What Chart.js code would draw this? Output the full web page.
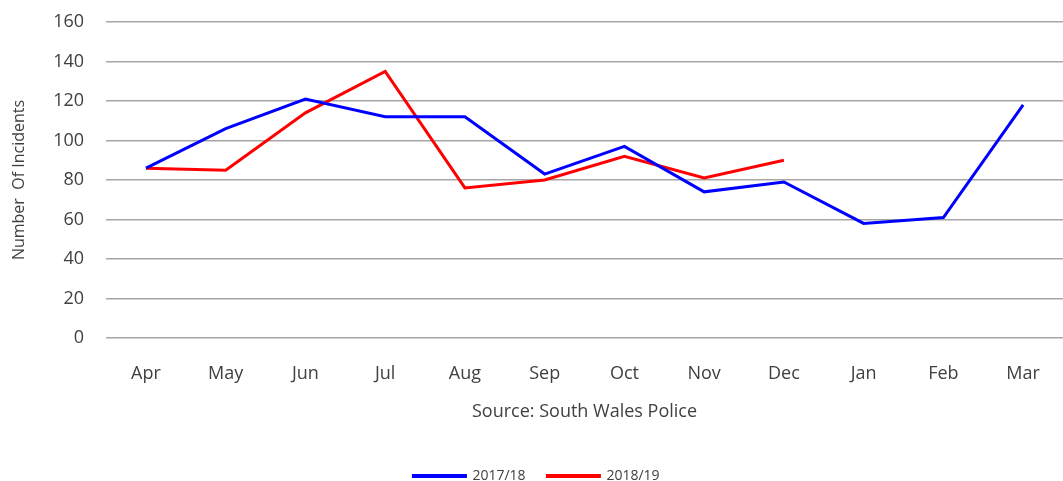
<!DOCTYPE html>
<html>
<head>
<meta charset="utf-8">
<script src="https://cdn.jsdelivr.net/npm/chart.js@4"></script>
<style>
  html, body { margin: 0; padding: 0; background: #fff; }
  #wrap { width: 1063px; height: 481px; position: relative; }
</style>
</head>
<body>
<div id="wrap"><canvas id="incidentsChart"></canvas></div>
<script>
// Months of the financial year
const months = ['Apr', 'May', 'Jun', 'Jul', 'Aug', 'Sep', 'Oct', 'Nov', 'Dec', 'Jan', 'Feb', 'Mar'];

// Incidents per month
const incidents1718 = [86, 106, 121, 112, 112, 83, 97, 74, 79, 58, 61, 118];
const incidents1819 = [86, 85, 114, 135, 76, 80, 92, 81, 90, null, null, null];

const seriesNames = ['2017/18', '2018/19'];
const yTicks = [0, 20, 40, 60, 80, 100, 120, 140, 160];

const fontFamily = "'Open Sans', 'Noto Sans', sans-serif";
const textColor = '#404040';

const ctx = document.getElementById('incidentsChart').getContext('2d');
new Chart(ctx, {
    type: 'line',
    data: {
        labels: months,
        datasets: [
            {
                label: seriesNames[0],
                data: incidents1718,
                borderColor: '#0000ff',
                backgroundColor: '#0000ff',
                borderWidth: 3,
                pointRadius: 0,
                tension: 0
            },
            {
                label: seriesNames[1],
                data: incidents1819,
                borderColor: '#ff0000',
                backgroundColor: '#ff0000',
                borderWidth: 3,
                pointRadius: 0,
                tension: 0
            }
        ]
    },
    options: {
        responsive: true,
        maintainAspectRatio: false,
        animation: false,
        layout: {
            padding: { top: 22, left: 10, right: 0, bottom: -12 }
        },
        scales: {
            x: {
                offset: true,
                grid: { display: false, offset: true },
                border: { display: false },
                ticks: {
                    color: textColor,
                    padding: 19,
                    font: { family: fontFamily, size: 18, lineHeight: 1 }
                },
                title: {
                    display: true,
                    text: 'Source: South Wales Police',
                    color: textColor,
                    padding: { top: 1, bottom: 48 },
                    font: { family: fontFamily, size: 18, lineHeight: 1 }
                }
            },
            y: {
                min: 0,
                max: 160,
                afterBuildTicks: function(axis) {
                    axis.ticks = yTicks.map(v => ({ value: v }));
                },
                // invisible tick marks give the label gap without padding the top of the chart
                grid: {
                    color: '#a6a6a6',
                    lineWidth: 1.5,
                    drawTicks: true,
                    tickLength: 22,
                    tickColor: 'rgba(0,0,0,0)'
                },
                border: { display: false },
                ticks: {
                    color: textColor,
                    padding: 0,
                    font: { family: fontFamily, size: 18 }
                },
                title: {
                    display: true,
                    text: 'Number  Of Incidents',
                    color: textColor,
                    padding: { top: 0, bottom: 24 },
                    font: { family: fontFamily, size: 16 }
                }
            }
        },
        plugins: {
            legend: {
                position: 'bottom',
                labels: {
                    color: textColor,
                    boxWidth: 52,
                    boxHeight: 1,
                    padding: 0,
                    font: { family: fontFamily, size: 14 },
                    // padding is 0 to keep the legend low, so space the items with trailing blanks
                    generateLabels: function(chart) {
                        const items = Chart.defaults.plugins.legend.labels.generateLabels(chart);
                        items[0].text = items[0].text + '      ';
                        return items;
                    }
                }
            },
            tooltip: { enabled: false }
        }
    }
});
</script>
</body>
</html>
